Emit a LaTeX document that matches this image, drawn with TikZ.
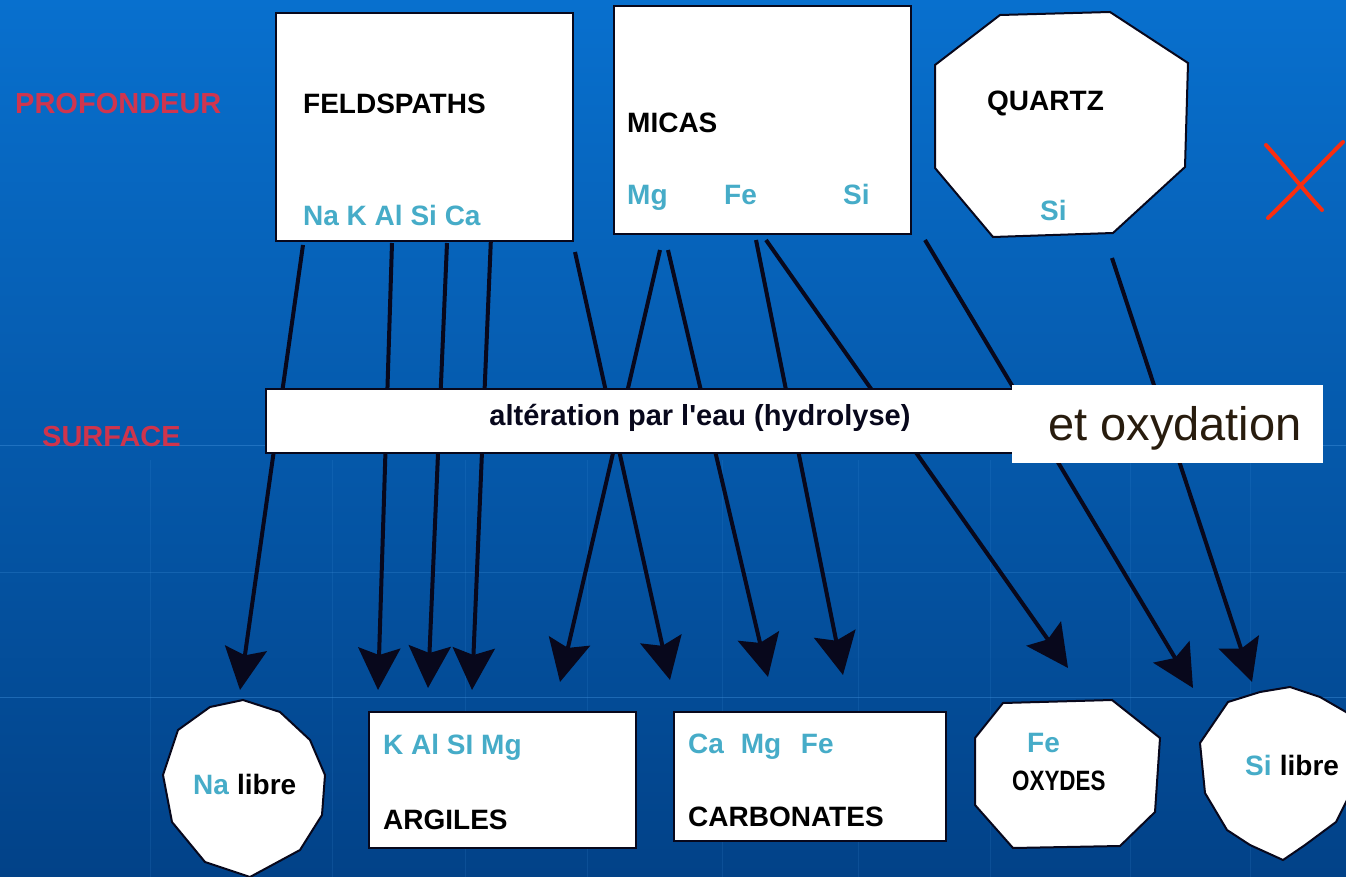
\documentclass[tikz,border=0pt]{standalone}
\usepackage{fontspec}
\setmainfont{Liberation Sans}
\usetikzlibrary{arrows.meta}
\definecolor{bgtop}{RGB}{8,112,206}
\definecolor{bgbot}{RGB}{2,66,136}
\definecolor{elem}{RGB}{70,172,200}
\definecolor{redlab}{RGB}{230,48,66}
\definecolor{ink}{RGB}{8,8,28}
\definecolor{oxy}{RGB}{40,28,14}
\definecolor{gridc}{RGB}{70,150,225}
\definecolor{xred}{RGB}{250,45,15}
\begin{document}
\begin{tikzpicture}[x=1pt,y=-1pt,
  box/.style={draw=ink,line width=2pt,fill=white},
  lab/.style={font=\fontsize{28}{30}\selectfont\bfseries,inner sep=0pt,anchor=base west},
  el/.style={lab,text=elem},
  arr/.style={draw=ink,line width=4pt,-{Stealth[length=42pt,width=42pt,inset=7pt]}},
  side/.style={font=\fontsize{29}{30}\selectfont\bfseries,text=redlab,inner sep=0pt,anchor=base west,opacity=0.9},
  gridl/.style={draw=gridc,line width=1pt,opacity=0.4}]
% background
\shade[top color=bgtop,bottom color=bgbot] (0,0) rectangle (1346,877);
\useasboundingbox (0,0) rectangle (1346,877);
% faint grid
\draw[gridl] (0,445) -- (1346,445);
\draw[gridl,opacity=0.25] (0,572) -- (1346,572);
\draw[gridl] (0,697) -- (1346,697);
\foreach \gx in {150,332,465,587,722,858,990,1130,1250}
  \draw[gridl,opacity=0.15] (\gx,460) -- (\gx,877);
% side labels
\node[side] (prof) at (15,114) {PROFONDEUR};
\node[side] (surf) at (42,446) {SURFACE};
% arrow end points
\coordinate (s1) at (303,245);  \coordinate (t1) at (240,690);
\coordinate (s2) at (392,243);  \coordinate (t2) at (378,690);
\coordinate (s3) at (447,243);  \coordinate (t3) at (428,688);
\coordinate (s4) at (491,237);  \coordinate (t4) at (472,690);
\coordinate (s5) at (575,252);  \coordinate (t5) at (670,680);
\coordinate (s6) at (660,250);  \coordinate (t6) at (560,682);
\coordinate (s7) at (668,250);  \coordinate (t7) at (768,677);
\coordinate (s8) at (756,240);  \coordinate (t8) at (843,675);
\coordinate (s9) at (766,240);  \coordinate (t9) at (1068,668);
\coordinate (s10) at (925,240); \coordinate (t10) at (1193,688);
\coordinate (s11) at (1112,258); \coordinate (t11) at (1252,682);
\foreach \i in {1,...,11} \draw[arr] (s\i) -- (t\i);
% alteration band
\node[box,line width=1.5pt,minimum width=747pt,minimum height=64pt,anchor=north west,inner sep=0pt] (alt) at (265,388) {};
\node[font=\fontsize{29}{30}\selectfont\bfseries,text=ink,inner sep=0pt] (altt) at (700,418) {altération par l\textquotesingle eau (hydrolyse)};
\node[fill=white,minimum width=311pt,minimum height=78pt,anchor=north west,inner sep=0pt] (oxb) at (1012,385) {};
\node[font=\fontsize{47}{50}\selectfont,text=oxy,inner sep=0pt] (oxt) at (1175,428) {et oxydation};
% top boxes
\node[box,minimum width=297pt,minimum height=228pt,anchor=north west,inner sep=0pt] (feld) at (275,12) {};
\node[lab] (feldt) at (303,114) {FELDSPATHS};
\node[el] (felde) at (303,226) {Na K Al Si Ca};
\node[box,minimum width=297pt,minimum height=228pt,anchor=north west,inner sep=0pt] (mica) at (613,5) {};
\node[lab] (micat) at (627,133) {MICAS};
\node[el] (mg) at (627,205) {Mg};
\node[el] (fe) at (724,205) {Fe};
\node[el] (si) at (843,205) {Si};
\path[box] (1000,15) -- (1110,12) -- (1188,63) -- (1185,167) -- (1113,233) -- (993,237) -- (935,168) -- (935,65) -- cycle;
\node[lab] (quartz) at (987,111) {QUARTZ};
\node[el] (qsi) at (1040,221) {Si};
% red cross
\draw[xred,line width=4pt,line cap=round] (1266,145) .. controls (1290,172) and (1305,192) .. (1322,210);
\draw[xred,line width=4pt,line cap=round] (1343,142) .. controls (1315,170) and (1292,195) .. (1268,218);
% bottom nodes
\path[box] (243,700) -- (280,712) -- (310,740) -- (325,775) -- (322,815) -- (300,850) -- (250,877) -- (205,862) -- (172,822) -- (163,775) -- (178,730) -- (210,707) -- cycle;
\node[el] (na) at (193,794) {Na};
\node[lab,anchor=base west] (nal) at (na.base east) {\ libre};
\node[box,minimum width=267pt,minimum height=136pt,anchor=north west,inner sep=0pt] (arg) at (368,711) {};
\node[el] (arge) at (383,754) {K Al SI Mg};
\node[lab] (argt) at (383,829) {ARGILES};
\node[box,minimum width=272pt,minimum height=129pt,anchor=north west,inner sep=0pt] (carb) at (673,711) {};
\node[el] (carbe) at (688,753) {Ca\hspace{9pt} Mg\hspace{12pt} Fe};
\node[lab] (carbt) at (688,826) {CARBONATES};
\path[box] (1003,703) -- (1112,700) -- (1160,738) -- (1155,812) -- (1120,846) -- (1013,848) -- (975,805) -- (975,738) -- cycle;
\node[el] (oxfe) at (1027,752) {Fe};
\node[lab,xscale=0.8] (oxyt) at (1012,790) {OXYDES};
\path[box] (1290,687) -- (1320,697) -- (1346,712) -- (1352,718) -- (1352,790) -- (1336,822) -- (1305,845) -- (1283,860) -- (1250,845) -- (1227,830) -- (1205,793) -- (1200,743) -- (1228,702) -- (1260,692) -- cycle;
\node[el] (sil) at (1245,775) {Si};
\node[lab,anchor=base west] (silt) at (sil.base east) {\ libre};
\end{tikzpicture}
\end{document}
